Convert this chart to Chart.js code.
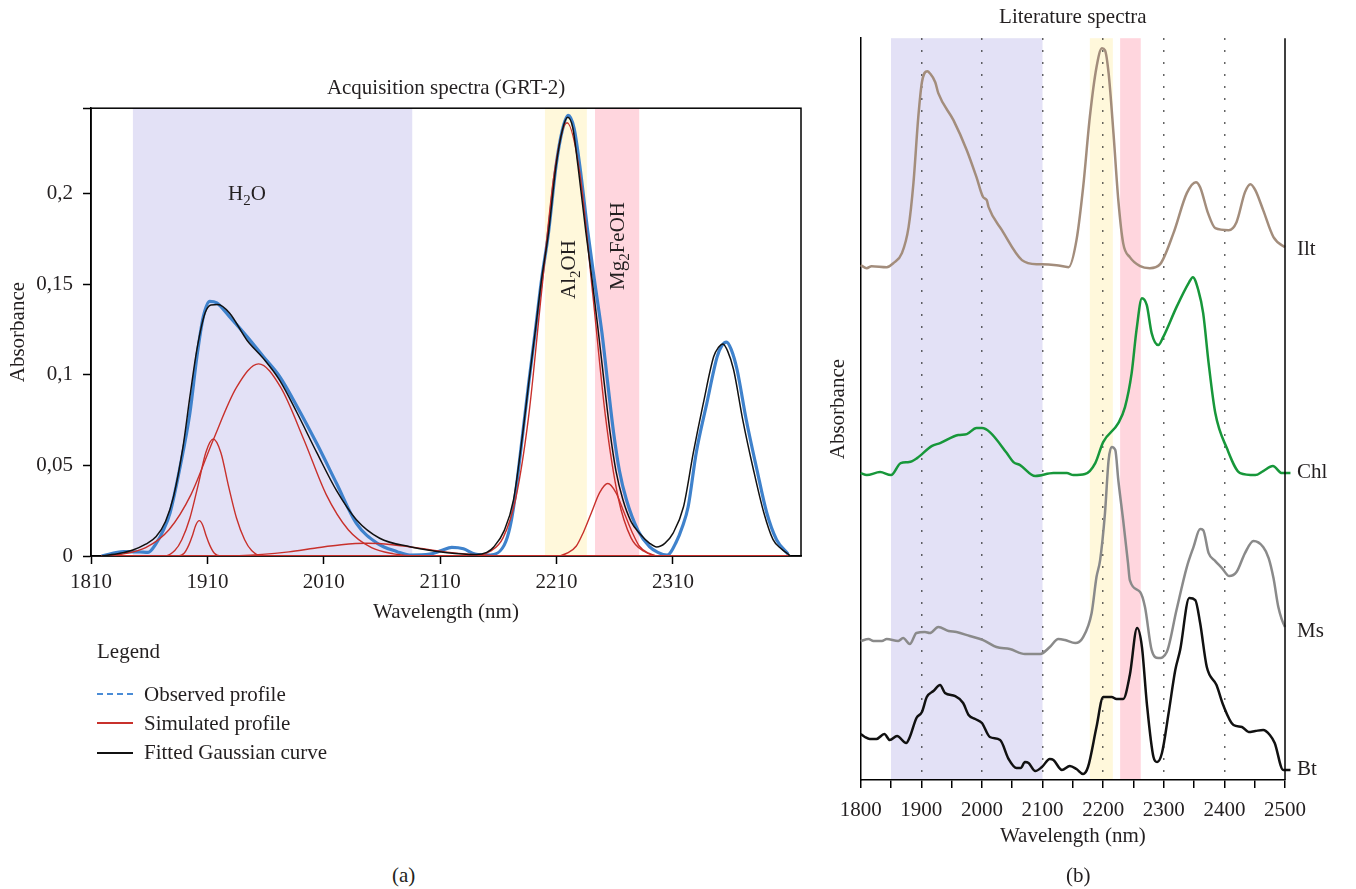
<!DOCTYPE html>
<html>
<head>
<meta charset="utf-8">
<script src="https://cdn.jsdelivr.net/npm/chart.js@4/dist/chart.umd.min.js"></script>
<style>
body { margin:0; background:#fff; width:1356px; height:889px; overflow:hidden; position:relative; font-family:"Liberation Serif", serif; color:#231f20; }
#chartA { position:absolute; left:0; top:0; }
#chartB { position:absolute; left:820px; top:0; }
.txt { position:absolute; font-size:21px; line-height:24px; white-space:nowrap; }
.key { position:absolute; left:97px; width:36px; height:0; }
</style>
</head>
<body>
<canvas id="chartA" width="820" height="640"></canvas>
<canvas id="chartB" width="536" height="889"></canvas>

<div class="txt" style="left:97px; top:639px;">Legend</div>
<div class="key" style="top:693px; border-top:2px dashed #4a8cd6;"></div>
<div class="txt" style="left:144px; top:682px;">Observed profile</div>
<div class="key" style="top:722px; border-top:2px solid #c8312c;"></div>
<div class="txt" style="left:144px; top:711px;">Simulated profile</div>
<div class="key" style="top:752px; border-top:2px solid #111;"></div>
<div class="txt" style="left:144px; top:740px;">Fitted Gaussian curve</div>
<div class="txt" style="left:392px; top:863px;">(a)</div>
<div class="txt" style="left:1066px; top:863px;">(b)</div>

<script>
// ---- panel (a): acquisition spectra GRT-2 ----
const xTicksA = [1810, 1910, 2010, 2110, 2210, 2310];
const yTicksA = [0, 0.05, 0.1, 0.15, 0.2];

const obsWl = [1819, 1838, 1852, 1859, 1866, 1872, 1878, 1886.5, 1895, 1901, 1906.5, 1912, 1918, 1929, 1944, 1958, 1972, 1987, 2004, 2021, 2038, 2056, 2073, 2084, 2101, 2111, 2120, 2130, 2140, 2153, 2165, 2170, 2174, 2181, 2186, 2191.5, 2197, 2203, 2209.5, 2215, 2220, 2225, 2230, 2237, 2243, 2249, 2254, 2259, 2264, 2270, 2280, 2290, 2297, 2305, 2313, 2318, 2323, 2330, 2339, 2348, 2352, 2356, 2360, 2365, 2373, 2382, 2390.5, 2399, 2409];
const obsAbs = [0, 0.0024, 0.0022, 0.002, 0.007, 0.014, 0.024, 0.049, 0.079, 0.110, 0.132, 0.1405, 0.1396, 0.132, 0.121, 0.110, 0.099, 0.0825, 0.062, 0.040, 0.018, 0.007, 0.0024, 0.0005, 0.001, 0.003, 0.0048, 0.004, 0.001, 0.0005, 0.006, 0.016, 0.031, 0.068, 0.095, 0.123, 0.152, 0.178, 0.215, 0.235, 0.243, 0.236, 0.215, 0.178, 0.150, 0.123, 0.095, 0.068, 0.047, 0.031, 0.014, 0.005, 0.002, 0.0005, 0.008, 0.016, 0.027, 0.057, 0.084, 0.110, 0.116, 0.118, 0.114, 0.103, 0.075, 0.048, 0.024, 0.009, 0.001];

const fitWl = [1819, 1835, 1846, 1857, 1866, 1874, 1881, 1889, 1895, 1901, 1908, 1913, 1919, 1929, 1944, 1958, 1972, 1987, 2004, 2021, 2038, 2058, 2084, 2116, 2141, 2150, 2156, 2165, 2173, 2181, 2186, 2191.5, 2197, 2203, 2209.5, 2215, 2219.6, 2224, 2228.4, 2235.3, 2241, 2246, 2251, 2256, 2261, 2267, 2274, 2282, 2290, 2296, 2303, 2310, 2319, 2327.5, 2336, 2345, 2349, 2353, 2357, 2362, 2370, 2379, 2388, 2396, 2403, 2408, 2411];
const fitAbs = [0, 0.0015, 0.0033, 0.0065, 0.0107, 0.019, 0.033, 0.060, 0.088, 0.114, 0.134, 0.1385, 0.1387, 0.134, 0.119, 0.109, 0.097, 0.079, 0.057, 0.036, 0.020, 0.0098, 0.0051, 0.0018, 0.0008, 0.002, 0.005, 0.014, 0.031, 0.068, 0.095, 0.123, 0.152, 0.178, 0.215, 0.235, 0.242, 0.236, 0.215, 0.178, 0.150, 0.123, 0.095, 0.068, 0.047, 0.031, 0.019, 0.012, 0.007, 0.005, 0.007, 0.0125, 0.027, 0.057, 0.084, 0.110, 0.115, 0.117, 0.113, 0.103, 0.075, 0.048, 0.024, 0.009, 0.004, 0.0015, 0];

// simulated (red) component profiles
const g1Wl = [1819, 1885, 1890, 1894, 1897, 1900, 1903, 1906, 1909, 1912, 1916, 1921, 2409];
const g1Abs = [0, 0, 0.0015, 0.006, 0.011, 0.017, 0.0195, 0.017, 0.011, 0.006, 0.0015, 0, 0];
const g2Wl = [1819, 1873, 1882, 1888, 1895, 1902, 1908.6, 1915, 1921.6, 1928, 1935, 1942, 1948, 1957, 2409];
const g2Abs = [0, 0, 0.003, 0.009, 0.021, 0.039, 0.057, 0.0645, 0.057, 0.039, 0.021, 0.009, 0.003, 0, 0];
const g3Wl = [1819, 1838, 1857, 1877, 1896, 1915, 1935, 1954, 1973, 1993, 2012, 2031, 2051, 2070, 2089, 2409];
const g3Abs = [0, 0.0012, 0.0046, 0.0145, 0.034, 0.064, 0.093, 0.106, 0.093, 0.064, 0.034, 0.0145, 0.0046, 0.0012, 0, 0];
const g4Wl = [1819, 1920, 1957, 1980, 2002, 2025, 2047, 2069, 2092, 2114, 2137, 2175, 2409];
const g4Abs = [0, 0, 0.0009, 0.0023, 0.0043, 0.0062, 0.007, 0.0062, 0.0043, 0.0023, 0.0009, 0, 0];
const g5Wl = [1819, 2139, 2153, 2164, 2175, 2186, 2197, 2208, 2219, 2230, 2241, 2252, 2263, 2274, 2285, 2299, 2409];
const g5Abs = [0, 0, 0.0026, 0.010, 0.032, 0.077, 0.145, 0.211, 0.239, 0.211, 0.145, 0.077, 0.032, 0.010, 0.0026, 0, 0];
const g6Wl = [1819, 2209, 2220, 2227, 2233, 2240, 2247, 2254, 2261, 2268, 2275, 2281, 2288, 2299, 2409];
const g6Abs = [0, 0, 0.0019, 0.0055, 0.013, 0.024, 0.035, 0.040, 0.035, 0.024, 0.013, 0.0055, 0.0019, 0, 0];

const bandNames = ['H2O', 'Al2OH', 'Mg2FeOH'];
const bandStartA = [1846, 2200, 2243];
const bandEndA = [2086, 2236, 2281];

// ---- panel (b): literature spectra (offset absorbance) ----
const bandStartB = [1850, 2178, 2228];
const bandEndB = [2100, 2216, 2262];
const dotLinesB = [1900, 2000, 2100, 2200, 2300, 2400];
const mineralNames = ['Ilt', 'Chl', 'Ms', 'Bt'];

const wlIlt = [1800, 1810, 1818, 1843, 1854, 1868, 1879, 1887, 1895, 1901, 1910, 1914, 1923, 1928, 1953, 1975, 1991, 2002, 2008, 2011, 2033, 2066, 2090, 2099, 2123, 2143, 2156, 2167, 2178, 2189, 2198, 2203, 2209, 2217, 2225, 2233, 2244, 2261, 2277, 2294, 2316, 2338, 2353, 2360, 2373, 2385, 2407, 2420, 2434, 2443, 2451, 2464, 2481, 2500, 2509];
const absIlt = [5.15, 5.12, 5.14, 5.13, 5.17, 5.27, 5.53, 5.97, 6.63, 6.98, 7.09, 7.07, 6.98, 6.87, 6.60, 6.30, 6.03, 5.83, 5.80, 5.73, 5.50, 5.20, 5.16, 5.16, 5.15, 5.13, 5.40, 5.93, 6.63, 7.13, 7.32, 7.30, 7.07, 6.47, 5.80, 5.37, 5.23, 5.14, 5.12, 5.16, 5.47, 5.87, 5.98, 5.93, 5.67, 5.52, 5.50, 5.58, 5.88, 5.96, 5.90, 5.70, 5.43, 5.33, 5.30];

const wlChl = [1800, 1810, 1832, 1850, 1866, 1880, 1893, 1917, 1931, 1961, 1975, 1991, 2000, 2013, 2041, 2052, 2063, 2088, 2118, 2140, 2151, 2170, 2187, 2200, 2225, 2236, 2247, 2255, 2264, 2272, 2280, 2291, 2299, 2321, 2341, 2348, 2357, 2365, 2374, 2385, 2404, 2426, 2451, 2464, 2480, 2495, 2509];
const absChl = [3.07, 3.05, 3.08, 3.05, 3.17, 3.18, 3.22, 3.34, 3.37, 3.45, 3.46, 3.52, 3.52, 3.48, 3.27, 3.18, 3.15, 3.04, 3.07, 3.07, 3.05, 3.06, 3.17, 3.38, 3.57, 3.73, 4.07, 4.50, 4.82, 4.75, 4.47, 4.35, 4.43, 4.73, 4.97, 5.03, 4.90, 4.67, 4.17, 3.67, 3.32, 3.07, 3.05, 3.09, 3.14, 3.07, 3.07];

const wlMs = [1800, 1813, 1821, 1835, 1843, 1862, 1870, 1881, 1892, 1906, 1914, 1928, 1945, 1958, 1980, 2002, 2024, 2046, 2071, 2096, 2112, 2126, 2137, 2154, 2167, 2181, 2189, 2195, 2203, 2209, 2214, 2220, 2225, 2233, 2241, 2244, 2261, 2269, 2280, 2291, 2305, 2321, 2338, 2349, 2360, 2365, 2374, 2385, 2396, 2408, 2420, 2434, 2448, 2464, 2473, 2481, 2489, 2500, 2509];
const absMs = [1.39, 1.41, 1.39, 1.39, 1.41, 1.39, 1.42, 1.36, 1.47, 1.48, 1.47, 1.53, 1.49, 1.48, 1.44, 1.40, 1.33, 1.31, 1.26, 1.26, 1.33, 1.41, 1.40, 1.37, 1.43, 1.67, 2.03, 2.20, 2.67, 3.20, 3.33, 3.30, 3.00, 2.60, 2.17, 2.00, 1.88, 1.73, 1.30, 1.22, 1.28, 1.70, 2.13, 2.33, 2.51, 2.50, 2.27, 2.19, 2.12, 2.04, 2.08, 2.27, 2.39, 2.33, 2.22, 2.02, 1.73, 1.53, 1.48];

const wlBt = [1800, 1807, 1815, 1826, 1839, 1848, 1860, 1875, 1881, 1892, 1901, 1909, 1920, 1931, 1939, 1956, 1969, 1978, 1989, 2000, 2013, 2030, 2044, 2057, 2064, 2071, 2077, 2088, 2099, 2112, 2118, 2132, 2145, 2156, 2167, 2175, 2189, 2200, 2206, 2214, 2222, 2233, 2244, 2256, 2264, 2272, 2283, 2289, 2297, 2308, 2319, 2327, 2342, 2352, 2360, 2371, 2387, 2398, 2415, 2429, 2440, 2451, 2464, 2475, 2483, 2497, 2509];
const absBt = [0.46, 0.43, 0.41, 0.41, 0.46, 0.40, 0.44, 0.37, 0.43, 0.62, 0.68, 0.83, 0.89, 0.95, 0.87, 0.84, 0.77, 0.65, 0.61, 0.57, 0.43, 0.40, 0.21, 0.12, 0.12, 0.18, 0.17, 0.09, 0.13, 0.21, 0.20, 0.10, 0.14, 0.11, 0.06, 0.13, 0.53, 0.83, 0.83, 0.83, 0.81, 0.81, 1.05, 1.52, 1.33, 0.77, 0.23, 0.18, 0.27, 0.67, 1.10, 1.30, 1.82, 1.80, 1.57, 1.13, 0.95, 0.75, 0.55, 0.53, 0.48, 0.49, 0.50, 0.45, 0.37, 0.10, 0.10];

const bandColors = ['#e3e1f6', '#fff8db', '#ffd6de'];
const ink = '#231f20';
const serif = '"Liberation Serif", serif';

Chart.defaults.font.family = serif;
Chart.defaults.font.size = 21;
Chart.defaults.color = ink;

function pts(xs, ys) {
    return xs.map((x, i) => ({x: x, y: ys[i]}));
}

function drawBands(chart, starts, ends) {
    const {ctx, chartArea: a, scales: {x}} = chart;
    ctx.save();
    for (let i = 0; i < starts.length; i++) {
        const x0 = x.getPixelForValue(starts[i]);
        const x1 = x.getPixelForValue(ends[i]);
        ctx.fillStyle = bandColors[i];
        ctx.fillRect(x0, a.top, x1 - x0, a.bottom - a.top);
    }
    ctx.restore();
}

// chemical formula with subscript digits, centred on (x, y)
function drawFormula(ctx, text, x, y, rot) {
    const parts = text.split(/(\d)/).filter(s => s);
    const big = '21px ' + serif, small = '15px ' + serif;
    let w = 0;
    parts.forEach(p => { ctx.font = /\d/.test(p) ? small : big; w += ctx.measureText(p).width; });
    ctx.save();
    ctx.translate(x, y);
    ctx.rotate(rot);
    ctx.fillStyle = ink;
    ctx.textBaseline = 'alphabetic';
    let cx = -w / 2;
    parts.forEach(p => {
        const sub = /\d/.test(p);
        ctx.font = sub ? small : big;
        ctx.fillText(p, cx, sub ? 12 : 7);
        cx += ctx.measureText(p).width;
    });
    ctx.restore();
}

const panelA = {
    id: 'panelA',
    beforeDraw(chart) {
        drawBands(chart, bandStartA, bandEndA);
    },
    beforeDatasetsDraw(chart) {
        const {ctx, chartArea: a} = chart;
        ctx.save();
        ctx.strokeStyle = '#000';
        ctx.lineWidth = 1.5;
        ctx.strokeRect(a.left, a.top, a.right - a.left, a.bottom - a.top);
        ctx.restore();
    },
    afterDatasetsDraw(chart) {
        const {ctx, scales: {x, y}} = chart;
        drawFormula(ctx, bandNames[0], x.getPixelForValue(1944), y.getPixelForValue(0.2), 0);
        drawFormula(ctx, bandNames[1], x.getPixelForValue(2220), y.getPixelForValue(0.158), -Math.PI / 2);
        drawFormula(ctx, bandNames[2], x.getPixelForValue(2262), y.getPixelForValue(0.171), -Math.PI / 2);
    }
};

const panelB = {
    id: 'panelB',
    beforeDraw(chart) {
        drawBands(chart, bandStartB, bandEndB);
    },
    afterDraw(chart) {
        const {ctx, chartArea: a, scales: {y}} = chart;
        ctx.save();
        ctx.strokeStyle = '#000';
        ctx.lineWidth = 1.5;
        ctx.beginPath();
        ctx.moveTo(a.right, a.top);
        ctx.lineTo(a.right, a.bottom);
        ctx.stroke();
        ctx.fillStyle = ink;
        ctx.font = '21px ' + serif;
        ctx.textBaseline = 'alphabetic';
        chart.data.datasets.forEach((ds, i) => {
            const last = ds.data[ds.data.length - 1];
            ctx.fillText(mineralNames[i], a.right + 12, y.getPixelForValue(last.y) + 5);
        });
        ctx.restore();
    }
};

function redLine(xs, ys) {
    return {data: pts(xs, ys), borderColor: '#c8312c', borderWidth: 1.4, order: 2};
}

var ctxA = document.getElementById('chartA').getContext('2d');
var chartA = new Chart(ctxA, {
    type: 'line',
    data: {
        datasets: [
            {data: pts(fitWl, fitAbs), borderColor: '#111', borderWidth: 1.5, order: 1},
            redLine(g1Wl, g1Abs),
            redLine(g2Wl, g2Abs),
            redLine(g3Wl, g3Abs),
            redLine(g4Wl, g4Abs),
            redLine(g5Wl, g5Abs),
            redLine(g6Wl, g6Abs),
            {data: pts(obsWl, obsAbs), borderColor: '#3f82cc', borderWidth: 3.2, order: 3}
        ]
    },
    options: {
        responsive: false,
        animation: false,
        parsing: false,
        elements: {point: {radius: 0}, line: {cubicInterpolationMode: 'monotone'}},
        layout: {padding: {left: 0, right: 19, top: 70, bottom: 15}},
        plugins: {
            legend: {display: false},
            tooltip: {enabled: false},
            title: {display: true, fullSize: false, text: 'Acquisition spectra (GRT-2)', color: ink,
                    font: {size: 21, weight: 'normal'}, padding: {top: 6, bottom: 7}}
        },
        scales: {
            x: {
                type: 'linear', min: 1810, max: 2420,
                afterBuildTicks: s => { s.ticks = xTicksA.map(v => ({value: v})); },
                afterFit: s => { s.height = 69; },
                ticks: {padding: 6, autoSkip: false, maxRotation: 0, callback: v => String(v)},
                grid: {drawOnChartArea: false, tickLength: 8, tickColor: '#000', tickWidth: 1.5},
                border: {color: '#000', width: 1.5},
                title: {display: true, text: 'Wavelength (nm)', padding: 0}
            },
            y: {
                min: 0, max: 0.247,
                afterBuildTicks: s => { s.ticks = yTicksA.concat([s.max]).map(v => ({value: v})); },
                afterFit: s => { s.width = 91; },
                ticks: {padding: 10, autoSkip: false,
                        callback: v => yTicksA.includes(v) ? String(+v.toFixed(2)).replace('.', ',') : ''},
                grid: {drawOnChartArea: false, tickLength: 8, tickColor: '#000', tickWidth: 1.5},
                border: {color: '#000', width: 1.5},
                title: {display: true, text: 'Absorbance', padding: {top: 6, bottom: 0}}
            }
        }
    },
    plugins: [panelA]
});

function specLine(xs, ys, color) {
    return {data: pts(xs, ys), borderColor: color, borderWidth: 2.5, clip: false};
}

var ctxB = document.getElementById('chartB').getContext('2d');
var chartB = new Chart(ctxB, {
    type: 'line',
    data: {
        datasets: [
            specLine(wlIlt, absIlt, '#a38d7c'),
            specLine(wlChl, absChl, '#17973a'),
            specLine(wlMs, absMs, '#8a8a8a'),
            specLine(wlBt, absBt, '#111')
        ]
    },
    options: {
        responsive: false,
        animation: false,
        parsing: false,
        elements: {point: {radius: 0}, line: {cubicInterpolationMode: 'monotone'}},
        layout: {padding: {left: 0, right: 71, top: 0, bottom: 40}},
        plugins: {
            legend: {display: false},
            tooltip: {enabled: false},
            title: {display: true, fullSize: false, text: 'Literature spectra', color: ink,
                    font: {size: 21, weight: 'normal'}, padding: {top: 5, bottom: 8}}
        },
        scales: {
            x: {
                type: 'linear', min: 1800, max: 2500,
                afterFit: s => { s.height = 69; },
                ticks: {stepSize: 50, padding: 10, autoSkip: false, maxRotation: 0,
                        callback: v => v % 100 === 0 ? String(v) : ''},
                grid: {
                    drawOnChartArea: true, lineWidth: 1.5, tickLength: 8, tickColor: '#000', tickWidth: 1.5,
                    color: c => (c.tick && dotLinesB.includes(c.tick.value)) ? '#333' : 'rgba(0,0,0,0)'
                },
                border: {color: '#000', width: 1.5, dash: [1.5, 10.5]},
                title: {display: true, text: 'Wavelength (nm)', padding: 0}
            },
            y: {
                min: 0, max: 7.42,
                afterFit: s => { s.width = 40.7; },
                ticks: {display: false},
                grid: {display: false},
                border: {color: '#000', width: 1.5},
                title: {display: true, text: 'Absorbance', padding: {top: 6, bottom: 0}}
            }
        }
    },
    plugins: [panelB]
});
</script>
</body>
</html>
